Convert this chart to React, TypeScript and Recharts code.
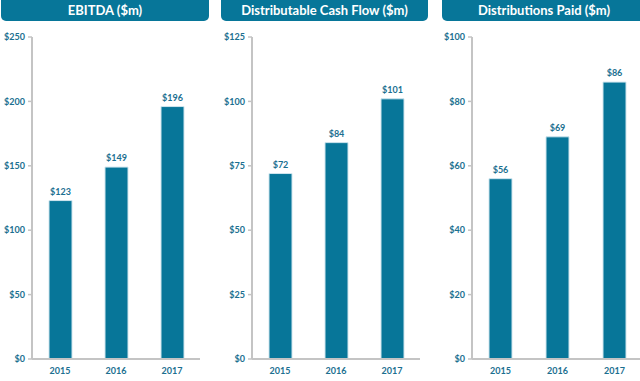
import { BarChart, Bar, XAxis, YAxis, LabelList } from "recharts";

const YEARS = ["2015", "2016", "2017"];
const EBITDA = [123, 149, 196];
const CASH_FLOW = [72, 84, 101];
const DISTRIBUTIONS = [56, 69, 86];

const EBITDA_TICKS = [0, 50, 100, 150, 200, 250];
const CASH_FLOW_TICKS = [0, 25, 50, 75, 100, 125];
const DISTRIBUTIONS_TICKS = [0, 20, 40, 60, 80, 100];

const TEAL = "#077699";
const LABEL_BLUE = "#1b6f90";
const AXIS_GREY = "#c4c4c4";
const FONT = "Lato, 'Open Sans', sans-serif";

function Panel({
  title,
  values,
  ticks,
  left,
  bannerLeft,
  bannerWidth,
  plotWidth,
}: {
  title: string;
  values: number[];
  ticks: number[];
  left: number;
  bannerLeft: number;
  bannerWidth: number;
  plotWidth: number;
}) {
  const data = YEARS.map((year, i) => ({ year, value: values[i] }));
  const yAxisWidth = 32;

  return (
    <>
      {/* title banner */}
      <div
        style={{
          position: "absolute",
          left: bannerLeft,
          top: -4,
          width: bannerWidth,
          height: 25,
          background: TEAL,
          borderRadius: 5,
          color: "#fff",
          fontFamily: FONT,
          fontWeight: 700,
          fontSize: 13,
          display: "flex",
          alignItems: "center",
          justifyContent: "center",
          paddingTop: 3,
          boxSizing: "border-box",
        }}
      >
        {title}
      </div>

      <div style={{ position: "absolute", left, top: 0 }}>
        <BarChart
          width={yAxisWidth + plotWidth}
          height={381}
          data={data}
          margin={{ top: 37, right: 0, bottom: 0, left: 0 }}
          barSize={23}
        >
          {/* tick marks sit on the category boundaries */}
          <XAxis
            xAxisId="edge"
            type="number"
            domain={[0, 3]}
            ticks={[0, 1, 2, 3]}
            tick={false}
            axisLine={false}
            tickLine={{ stroke: AXIS_GREY, strokeWidth: 1.5 }}
            tickSize={4}
            height={1}
          />
          <XAxis
            xAxisId="cat"
            dataKey="year"
            tickLine={false}
            axisLine={{ stroke: AXIS_GREY, strokeWidth: 2 }}
            tick={{ fill: LABEL_BLUE, fontSize: 9, fontWeight: 700, fontFamily: FONT }}
            tickMargin={3}
            height={21}
          />
          <YAxis
            width={yAxisWidth}
            domain={[ticks[0], ticks[ticks.length - 1]]}
            ticks={ticks}
            interval={0}
            tickFormatter={(v: number) => `$${v}`}
            axisLine={{ stroke: AXIS_GREY, strokeWidth: 2 }}
            tickLine={{ stroke: AXIS_GREY, strokeWidth: 1.5 }}
            tickSize={4}
            tickMargin={3}
            tick={{ fill: LABEL_BLUE, fontSize: 9, fontWeight: 700, fontFamily: FONT }}
          />
          <Bar
            xAxisId="cat"
            dataKey="value"
            fill={TEAL}
            stroke="#cfe5ee"
            strokeWidth={1}
            isAnimationActive={false}
          >
            <LabelList
              dataKey="value"
              position="top"
              offset={6}
              formatter={(v: number) => `$${v}`}
              style={{ fill: LABEL_BLUE, fontSize: 9, fontWeight: 700, fontFamily: FONT }}
            />
          </Bar>
        </BarChart>
      </div>
    </>
  );
}

export default function App() {
  return (
    <div
      style={{
        position: "absolute",
        left: 0,
        top: 0,
        width: 640,
        height: 381,
        overflow: "hidden",
        background: "#fff",
      }}
    >
      <Panel
        title="EBITDA ($m)"
        values={EBITDA}
        ticks={EBITDA_TICKS}
        left={0}
        bannerLeft={1}
        bannerWidth={208}
        plotWidth={168}
      />
      <Panel
        title="Distributable Cash Flow ($m)"
        values={CASH_FLOW}
        ticks={CASH_FLOW_TICKS}
        left={220}
        bannerLeft={221}
        bannerWidth={207}
        plotWidth={168}
      />
      <Panel
        title="Distributions Paid ($m)"
        values={DISTRIBUTIONS}
        ticks={DISTRIBUTIONS_TICKS}
        left={440}
        bannerLeft={442}
        bannerWidth={204}
        plotWidth={171}
      />
    </div>
  );
}
